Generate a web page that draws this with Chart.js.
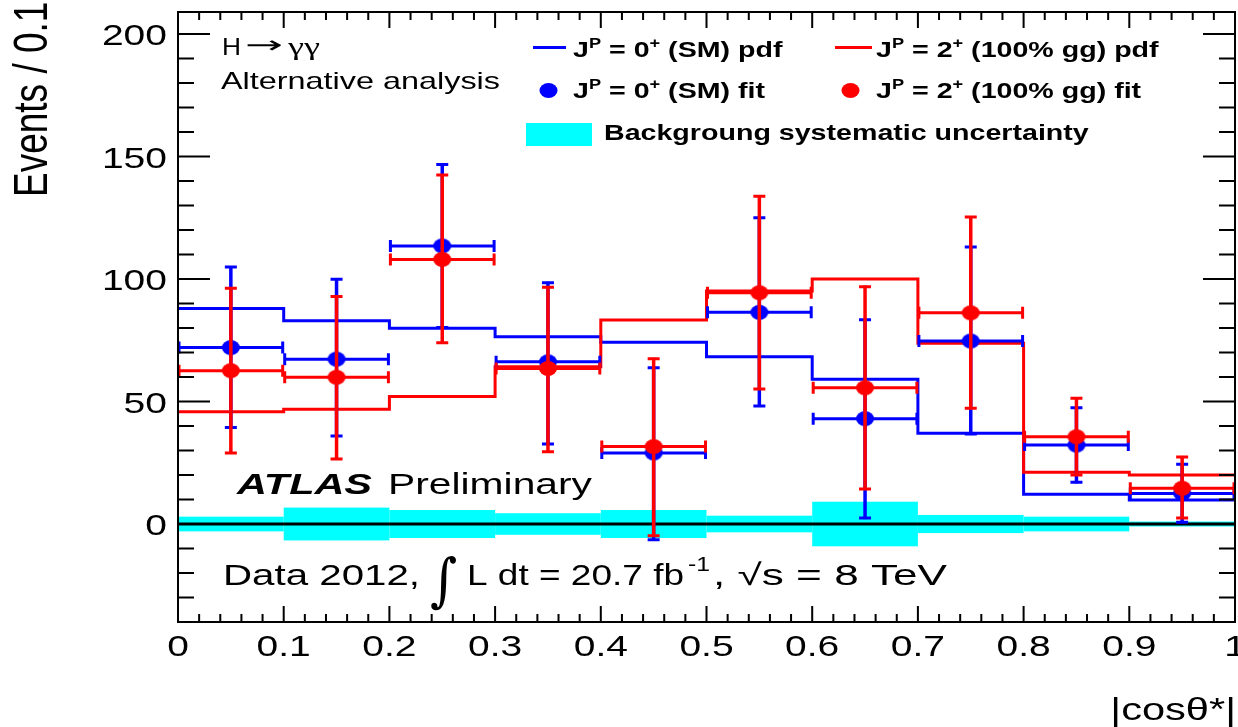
<!DOCTYPE html>
<html>
<head>
<meta charset="utf-8">
<script src="https://cdn.jsdelivr.net/npm/chart.js@4.4.0/dist/chart.umd.min.js"></script>
<style>
  body { margin: 0; background: #fff; }
  canvas { display: block; }
</style>
</head>
<body>
<canvas id="c" width="1238" height="727"></canvas>
<script>
// donnees (bins de |cos theta*|)
const binEdges   = [0, 0.1, 0.2, 0.3, 0.4, 0.5, 0.6, 0.7, 0.8, 0.9, 1.0];
const binCenters = [0.05, 0.15, 0.25, 0.35, 0.45, 0.55, 0.65, 0.75, 0.85, 0.95];

const smPdf    = [88.0, 83.0, 79.9, 76.4, 74.2, 68.3, 59.1, 37.0, 12.1, 9.8];
const spin2Pdf = [45.8, 46.8, 52.0, 64.2, 83.3, 95.1, 100.0, 73.8, 21.1, 20.0];

const smFit     = [72.0, 67.3, 113.5, 66.2, 29.0, 86.4, 43.0, 74.7, 32.2, 12.5];
const smFitHi   = [105.3, 100.3, 147.2, 98.9, 64.2, 125.4, 83.8, 113.5, 47.9, 24.8];
const smFitLo   = [39.0, 35.5, 79.8, 32.2, -6.8, 47.8, 2.0, 36.3, 16.6, 0.3];

const spin2Fit   = [62.6, 59.9, 108.0, 63.5, 31.6, 94.4, 55.6, 86.2, 35.6, 14.6];
const spin2FitHi = [96.6, 93.3, 142.9, 97.1, 67.9, 134.2, 97.3, 125.7, 51.7, 27.8];
const spin2FitLo = [28.6, 26.1, 73.6, 29.1, -5.2, 54.7, 13.9, 46.8, 19.6, 2.0];

const bkgSyst = [3.0, 6.7, 5.7, 4.4, 5.7, 3.4, 9.1, 3.7, 3.0, 1.0];

const xTickValues = [0, 0.1, 0.2, 0.3, 0.4, 0.5, 0.6, 0.7, 0.8, 0.9, 1];
const xTickLabels = ['0', '0.1', '0.2', '0.3', '0.4', '0.5', '0.6', '0.7', '0.8', '0.9', '1'];
const yTickValues = [0, 50, 100, 150, 200];
const yTickLabels = ['0', '50', '100', '150', '200'];

const BLUE = '#0000ff', RED = '#ff0000', CYAN = '#00ffff';
const SANS = '"Liberation Sans", Arial, sans-serif';

// histogramme en escalier : un point par bord gauche + le bord final
function stepData(vals) {
  return binEdges.map((e, i) => ({ x: e, y: vals[Math.min(i, vals.length - 1)] }));
}
function pointData(vals) {
  return binCenters.map((c, i) => ({ x: c, y: vals[i] }));
}

// marqueur ellipse (la figure est un peu etiree en largeur)
function makeDot(color) {
  const cv = document.createElement('canvas');
  cv.width = 20; cv.height = 17;
  const g = cv.getContext('2d');
  g.fillStyle = color;
  g.beginPath();
  g.ellipse(10, 8.5, 9, 7.5, 0, 0, Math.PI * 2);
  g.fill();
  return cv;
}

// texte etire horizontalement, renvoie la largeur dessinee
function txt(ctx, s, x, y, font, sx, align) {
  ctx.save();
  ctx.font = font;
  const w = ctx.measureText(s).width;
  ctx.translate(x, y);
  ctx.scale(sx, 1);
  let dx = 0;
  if (align === 'right') dx = -w;
  if (align === 'center') dx = -w / 2;
  ctx.fillText(s, dx, 0);
  ctx.restore();
  return w * sx;
}
// meme chose mais avec une largeur cible
function txtW(ctx, s, x, y, font, width) {
  ctx.save();
  ctx.font = font;
  const sx = width / ctx.measureText(s).width;
  ctx.restore();
  return txt(ctx, s, x, y, font, sx, 'left');
}
function rich(ctx, parts, x, y, sx) {
  let cx = x;
  parts.forEach(p => { cx += txt(ctx, p[0], cx, y + p[2], p[1], sx, 'left'); });
  return cx;
}

function drawErrors(chart, ds) {
  const ctx = chart.ctx, xs = chart.scales.x, ys = chart.scales.y;
  ctx.save();
  ctx.strokeStyle = ds.borderColor;
  ctx.lineCap = 'butt';
  binCenters.forEach((c, i) => {
    const px = xs.getPixelForValue(c);
    const x0 = xs.getPixelForValue(binEdges[i]);
    const x1 = xs.getPixelForValue(binEdges[i + 1]);
    const py = ys.getPixelForValue(ds.fitVals[i]);
    const pHi = ys.getPixelForValue(ds.errHi[i]);
    const pLo = ys.getPixelForValue(ds.errLo[i]);
    ctx.lineWidth = 3;
    ctx.beginPath();
    ctx.moveTo(x0, py); ctx.lineTo(x1, py);
    ctx.moveTo(x0 + 1, py - 6); ctx.lineTo(x0 + 1, py + 6);
    ctx.moveTo(x1 - 1, py - 6); ctx.lineTo(x1 - 1, py + 6);
    ctx.stroke();
    ctx.lineWidth = 3.5;
    ctx.beginPath();
    ctx.moveTo(px, pHi); ctx.lineTo(px, pLo);
    ctx.stroke();
    ctx.lineWidth = 3;
    ctx.beginPath();
    ctx.moveTo(px - 6, pHi + 1); ctx.lineTo(px + 6, pHi + 1);
    ctx.moveTo(px - 6, pLo - 1); ctx.lineTo(px + 6, pLo - 1);
    ctx.stroke();
  });
  ctx.restore();
}

const rootStyle = {
  id: 'rootStyle',
  beforeDatasetsDraw(chart) {
    const ctx = chart.ctx, xs = chart.scales.x, ys = chart.scales.y, a = chart.chartArea;
    ctx.save();
    ctx.fillStyle = CYAN;
    bkgSyst.forEach((h, i) => {
      const x0 = xs.getPixelForValue(binEdges[i]);
      const x1 = xs.getPixelForValue(binEdges[i + 1]);
      const yt = ys.getPixelForValue(h);
      const yb = ys.getPixelForValue(-h);
      ctx.fillRect(x0, yt, x1 - x0, yb - yt);
    });
    const y0 = ys.getPixelForValue(0);
    ctx.strokeStyle = '#000';
    ctx.lineWidth = 3;
    ctx.beginPath();
    ctx.moveTo(a.left, y0); ctx.lineTo(a.right, y0);
    ctx.stroke();
    ctx.restore();
  },
  beforeDatasetDraw(chart, args) {
    const ds = chart.data.datasets[args.index];
    if (ds.errHi) drawErrors(chart, ds);
  },
  afterDraw(chart) {
    const ctx = chart.ctx, xs = chart.scales.x, ys = chart.scales.y, a = chart.chartArea;
    ctx.save();
    ctx.strokeStyle = '#000';
    ctx.fillStyle = '#000';
    ctx.lineWidth = 2;
    ctx.strokeRect(a.left, a.top, a.right - a.left, a.bottom - a.top);

    // graduations vers l'interieur, style ROOT
    ctx.beginPath();
    for (let v = -40; v <= 200; v += 10) {
      const y = ys.getPixelForValue(v);
      const len = (v % 50 === 0) ? 32 : 16;
      ctx.moveTo(a.left, y); ctx.lineTo(a.left + len, y);
      ctx.moveTo(a.right, y); ctx.lineTo(a.right - len, y);
    }
    for (let k = 0; k <= 50; k++) {
      const x = xs.getPixelForValue(k * 0.02);
      const len = (k % 5 === 0) ? 16 : 8;
      ctx.moveTo(x, a.bottom); ctx.lineTo(x, a.bottom - len);
      ctx.moveTo(x, a.top); ctx.lineTo(x, a.top + len);
    }
    ctx.stroke();

    yTickValues.forEach((v, i) => {
      txt(ctx, yTickLabels[i], 167, ys.getPixelForValue(v) + 11, '30px ' + SANS, 1.3, 'right');
    });
    xTickValues.forEach((v, i) => {
      txt(ctx, xTickLabels[i], xs.getPixelForValue(v), 656, '30px ' + SANS, 1.3, 'center');
    });

    // titres des axes
    ctx.save();
    ctx.translate(47, 197);
    ctx.rotate(-Math.PI / 2);
    ctx.scale(1, 1.3);
    ctx.font = '37px ' + SANS;
    ctx.fillText('Events / 0.1', 0, 0);
    ctx.restore();
    txt(ctx, '|cosθ*|', 1236, 720, '32px ' + SANS, 1.3, 'right');

    // annotations
    txtW(ctx, 'H', 222, 55, '24px ' + SANS, 19);
    txtW(ctx, '→', 245, 53, '24px "DejaVu Sans", sans-serif', 38);
    txtW(ctx, 'γγ', 288, 55, '26px "Liberation Serif", serif', 32);
    txtW(ctx, 'Alternative analysis', 221, 89, '24px ' + SANS, 279);
    txtW(ctx, 'ATLAS', 237, 494, 'italic bold 30px ' + SANS, 135);
    txtW(ctx, 'Preliminary', 388, 494, '30px ' + SANS, 204);
    txtW(ctx, 'Data 2012,', 223, 585, '30px ' + SANS, 197);
    txt(ctx, '∫', 430, 600, '58px "DejaVu Serif", serif', 0.9, 'left');
    txtW(ctx, 'L dt = 20.7 fb', 467, 585, '30px ' + SANS, 217);
    txtW(ctx, '-1', 688, 571, '20px ' + SANS, 22);
    txtW(ctx, ', √s = 8 TeV', 713, 585, '30px ' + SANS, 234);

    // legende
    const B = 'bold 22px ' + SANS, S = 'bold 14px ' + SANS;
    ctx.lineWidth = 3;
    ctx.strokeStyle = BLUE;
    ctx.beginPath(); ctx.moveTo(533, 47.5); ctx.lineTo(566, 47.5); ctx.stroke();
    ctx.strokeStyle = RED;
    ctx.beginPath(); ctx.moveTo(835, 47.5); ctx.lineTo(872, 47.5); ctx.stroke();
    rich(ctx, [['J', B, 0], ['P', S, -9], [' = 0', B, 0], ['+', S, -9], [' (SM) pdf', B, 0]], 573, 57, 1.3);
    rich(ctx, [['J', B, 0], ['P', S, -9], [' = 2', B, 0], ['+', S, -9], [' (100% gg) pdf', B, 0]], 876, 57, 1.3);
    ctx.fillStyle = BLUE;
    ctx.beginPath(); ctx.ellipse(548.5, 90.5, 9, 7.5, 0, 0, Math.PI * 2); ctx.fill();
    ctx.fillStyle = RED;
    ctx.beginPath(); ctx.ellipse(850.5, 90.5, 9, 7.5, 0, 0, Math.PI * 2); ctx.fill();
    ctx.fillStyle = '#000';
    rich(ctx, [['J', B, 0], ['P', S, -9], [' = 0', B, 0], ['+', S, -9], [' (SM) fit', B, 0]], 573, 98, 1.3);
    rich(ctx, [['J', B, 0], ['P', S, -9], [' = 2', B, 0], ['+', S, -9], [' (100% gg) fit', B, 0]], 876, 98, 1.3);
    ctx.fillStyle = CYAN;
    ctx.fillRect(526, 123, 66, 23);
    ctx.fillStyle = '#000';
    txt(ctx, 'Backgroung systematic uncertainty', 604, 140, B, 1.3, 'left');
    ctx.restore();
  }
};

const chart = new Chart(document.getElementById('c'), {
  type: 'scatter',
  data: {
    datasets: [
      { label: 'JP = 0+ (SM) pdf', data: stepData(smPdf), showLine: true, stepped: true,
        borderColor: BLUE, borderWidth: 3, pointRadius: 0, fill: false, order: 4 },
      { label: 'JP = 2+ (100% gg) pdf', data: stepData(spin2Pdf), showLine: true, stepped: true,
        borderColor: RED, borderWidth: 3, pointRadius: 0, fill: false, order: 3 },
      { label: 'JP = 0+ (SM) fit', data: pointData(smFit), fitVals: smFit, errHi: smFitHi, errLo: smFitLo,
        borderColor: BLUE, backgroundColor: BLUE, pointStyle: makeDot(BLUE), pointRadius: 9, order: 2 },
      { label: 'JP = 2+ (100% gg) fit', data: pointData(spin2Fit), fitVals: spin2Fit, errHi: spin2FitHi, errLo: spin2FitLo,
        borderColor: RED, backgroundColor: RED, pointStyle: makeDot(RED), pointRadius: 9, order: 1 }
    ]
  },
  options: {
    responsive: false,
    animation: false,
    devicePixelRatio: 1,
    events: [],
    layout: { autoPadding: false, padding: { top: 12, right: 3, left: 0, bottom: 0 } },
    plugins: { legend: { display: false }, tooltip: { enabled: false } },
    scales: {
      x: {
        type: 'linear', min: 0, max: 1,
        ticks: { display: false }, grid: { display: false }, border: { display: false },
        afterFit: s => { s.height = 105; }
      },
      y: {
        type: 'linear', min: -40, max: 209,
        ticks: { display: false }, grid: { display: false }, border: { display: false },
        afterFit: s => { s.width = 178; }
      }
    }
  },
  plugins: [rootStyle]
});
</script>
</body>
</html>
